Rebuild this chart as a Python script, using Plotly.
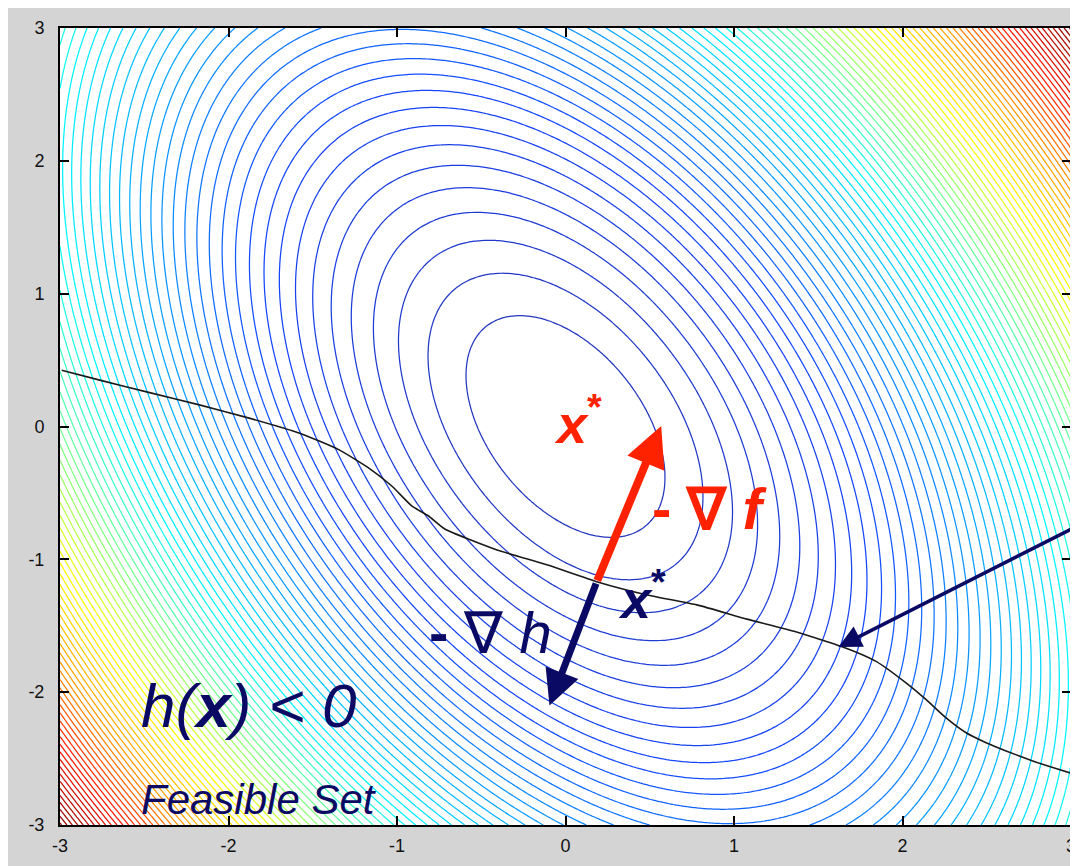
import numpy as np
import plotly.graph_objects as go

# ---- data ----
# objective f(x, y) = A*x^2 + B*x*y + C*y^2  (coefficients estimated from the ellipses)
F_A, F_B, F_C = 2.0, 1.3, 1.0
LEVEL_START, LEVEL_END, LEVEL_STEP = 0.55, 39.05, 0.5

# constraint boundary h(x) = 0 (black curve)
CURVE_X = [-2.99, -2.764, -2.468, -2.173, -1.877, -1.582, -1.346, -1.169, -1.031, -0.913,
           -0.815, -0.716, -0.419, -0.106, 0.190, 0.485, 0.780, 1.076, 1.371, 1.666,
           1.843, 2.021, 2.139, 2.257, 2.375, 2.493, 2.611, 2.769, 2.887, 3.013]
CURVE_Y = [0.424, 0.349, 0.255, 0.163, 0.063, -0.049, -0.174, -0.311, -0.448, -0.597,
           -0.672, -0.772, -0.924, -1.043, -1.170, -1.268, -1.343, -1.450, -1.547, -1.669,
           -1.768, -1.930, -2.055, -2.192, -2.304, -2.379, -2.441, -2.516, -2.566, -2.615]

# arrows: (tail_x, tail_y, head_x, head_y)
ARROW_NEG_GRAD_F = (0.185, -1.17, 0.568, 0.003)
ARROW_NEG_GRAD_H = (0.185, -1.17, -0.095, -2.10)
ARROW_POINTER = (3.02, -0.76, 1.62, -1.66)

TICKS = [-3, -2, -1, 0, 1, 2, 3]
TICK_TEXT = ["-3", "-2", "-1", "0", "1", "2", "3"]

# ---- figure ----
gx = np.linspace(-3, 3, 301)
gy = np.linspace(-3, 3, 301)
X, Y = np.meshgrid(gx, gy)
Z = F_A * X**2 + F_B * X * Y + F_C * Y**2

jet = [[0.0, "rgb(35,55,190)"], [0.12, "rgb(20,70,255)"], [0.35, "rgb(0,245,255)"],
       [0.46, "rgb(120,255,140)"], [0.58, "rgb(255,255,0)"], [0.72, "rgb(255,150,0)"],
       [0.84, "rgb(255,20,0)"], [1.0, "rgb(130,0,0)"]]

fig = go.Figure()
fig.add_trace(go.Contour(
    x=gx, y=gy, z=Z,
    autocontour=False,
    contours=dict(start=LEVEL_START, end=LEVEL_END, size=LEVEL_STEP, coloring="lines"),
    colorscale=jet,
    line=dict(width=1.25),
    showscale=False, hoverinfo="skip",
))
fig.add_trace(go.Scatter(
    x=CURVE_X, y=CURVE_Y, mode="lines",
    line=dict(color="#1a1a1a", width=1.6, shape="spline", smoothing=0.5),
    hoverinfo="skip", showlegend=False,
))

NAVY = "#0a0a64"
RED = "#ff2200"
FONT = "Liberation Sans, Arial, Helvetica, sans-serif"

def arrow(spec, color, width, size):
    tx, ty, hx, hy = spec
    return dict(x=hx, y=hy, ax=tx, ay=ty, xref="x", yref="y", axref="x", ayref="y",
                text="", showarrow=True, arrowhead=2, arrowsize=size, arrowwidth=width,
                arrowcolor=color, standoff=0, startstandoff=0)

annotations = [
    arrow(ARROW_NEG_GRAD_F, RED, 8, 1.0),
    arrow(ARROW_NEG_GRAD_H, NAVY, 7, 1.0),
    arrow(ARROW_POINTER, NAVY, 3.5, 1.3),
    dict(x=-0.08, y=0.05, xref="x", yref="y", xanchor="left", yanchor="middle",
         text="<b><i>x</i></b><sup><b>*</b></sup>", showarrow=False,
         font=dict(family=FONT, size=54, color=RED)),
    dict(x=0.50, y=-0.62, xref="x", yref="y", xanchor="left", yanchor="middle",
         text="<b>- \u2207 <i>f</i></b>", showarrow=False,
         font=dict(family=FONT, size=58, color=RED)),
    dict(x=0.30, y=-1.27, xref="x", yref="y", xanchor="left", yanchor="middle",
         text="<b><i>x</i></b><sup><b>*</b></sup>", showarrow=False,
         font=dict(family=FONT, size=54, color=NAVY)),
    dict(x=-0.82, y=-1.55, xref="x", yref="y", xanchor="left", yanchor="middle",
         text="<b>-</b> \u2207 <i>h</i>", showarrow=False,
         font=dict(family=FONT, size=58, color=NAVY)),
    dict(x=-2.53, y=-2.10, xref="x", yref="y", xanchor="left", yanchor="middle",
         text="<i>h(<b>x</b>) &lt; 0</i>", showarrow=False,
         font=dict(family=FONT, size=62, color=NAVY)),
    dict(x=-2.53, y=-2.81, xref="x", yref="y", xanchor="left", yanchor="middle",
         text="<i>Feasible Set</i>", showarrow=False,
         font=dict(family=FONT, size=42, color=NAVY)),
]

axis_common = dict(
    range=[-3, 3], tickvals=TICKS, ticktext=TICK_TEXT, ticks="inside", ticklen=9,
    tickwidth=2, tickcolor="black",
    showline=True, linecolor="black", linewidth=2, mirror="ticks", showgrid=False,
    zeroline=False, tickfont=dict(family=FONT, size=18, color="#111111"),
)

fig.update_layout(
    width=1078, height=866,
    margin=dict(l=52, r=10, t=14, b=49),
    paper_bgcolor="#d4d4d4", plot_bgcolor="white",
    xaxis=dict(**axis_common, ticklabelstandoff=3),
    yaxis=dict(**axis_common, ticklabelstandoff=10),
    annotations=annotations,
    showlegend=False,
)

fig.write_html("out.html")
